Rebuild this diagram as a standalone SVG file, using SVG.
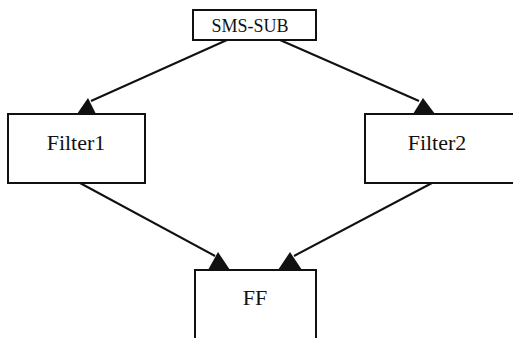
<svg xmlns="http://www.w3.org/2000/svg" width="513" height="338" viewBox="0 0 513 338">
  <style>
    .box { fill: #ffffff; stroke: #111111; stroke-width: 2; }
    .label { font-family: "Liberation Serif", "Times New Roman", serif; fill: #111111; text-anchor: middle; }
    .edge { stroke: #111111; stroke-width: 2; fill: none; }
    .head { fill: #111111; stroke: none; }
  </style>
  <rect width="513" height="338" fill="#ffffff"/>

  <g id="connectors">
    <line class="edge" x1="227" y1="40" x2="91" y2="101"/>
    <polygon class="head" points="88,98 77,114 96,114"/>
    <line class="edge" x1="280" y1="40" x2="419" y2="101"/>
    <polygon class="head" points="423,98 413,114 435,114"/>
    <line class="edge" x1="80" y1="183" x2="215" y2="256"/>
    <polygon class="head" points="218,252 208,270 230,270"/>
    <line class="edge" x1="432" y1="183" x2="294" y2="256"/>
    <polygon class="head" points="290,252 278,270 302,270"/>
  </g>

  <g id="sms-sub">
    <rect class="box" x="193" y="10" width="123" height="30"/>
    <text class="label" x="250" y="32" font-size="18">SMS-SUB</text>
  </g>

  <g id="filter1">
    <rect class="box" x="8" y="114" width="137" height="69"/>
    <text class="label" x="76" y="150" font-size="22">Filter1</text>
  </g>

  <g id="filter2">
    <rect class="box" x="365" y="114" width="160" height="69"/>
    <text class="label" x="437" y="150" font-size="22">Filter2</text>
  </g>

  <g id="ff">
    <rect class="box" x="195" y="270" width="121" height="80"/>
    <text class="label" x="255" y="305" font-size="22">FF</text>
  </g>
</svg>
